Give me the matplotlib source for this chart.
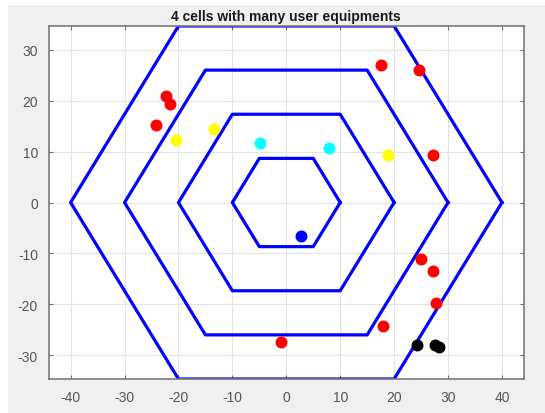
import numpy as np
from matplotlib import pyplot as plt
from matplotlib.patches import Rectangle

# cell rings (hexagon radii)
radii = [10, 20, 30, 40]

# user equipments, grouped by colour
red_x = [17.5, 24.7, -22.4, -21.6, -24.2, 27.3, 24.9, 27.2, 27.8, 17.9, -0.9]
red_y = [26.9, 26.0, 20.9, 19.3, 15.3, 9.3, -11.0, -13.5, -19.8, -24.2, -27.3]
yellow_x = [-20.5, -13.4, 18.8]
yellow_y = [12.2, 14.5, 9.3]
cyan_x = [-4.8, 7.9]
cyan_y = [11.7, 10.7]
blue_x = [2.8]
blue_y = [-6.5]
black_x = [24.3, 27.5, 28.3]
black_y = [-28.0, -28.0, -28.3]

ticks_x = [-40, -30, -20, -10, 0, 10, 20, 30, 40]
ticks_y = [-30, -20, -10, 0, 10, 20, 30]

plt.rcParams['font.family'] = ['Liberation Sans', 'DejaVu Sans']
plt.rcParams['axes.unicode_minus'] = False

fig = plt.figure(figsize=(5.45, 4.14), dpi=100)
fig.patch.set_facecolor('white')
# grey MATLAB-like figure panel
fig.patches.append(Rectangle((8 / 545, 0.0), 1.0, 408 / 414, transform=fig.transFigure,
                             facecolor='#f0f0f0', edgecolor='none', zorder=-10))

ax = fig.add_axes([0.090, 0.0821, 0.8706, 0.8527])
ax.set_facecolor('white')

ang = np.deg2rad(np.arange(0, 361, 60))
for r in radii:
    ax.plot(r * np.cos(ang), r * np.sin(ang), color='#0000ff', linewidth=2.3, zorder=2)

ms = 7.6
ax.plot(red_x, red_y, 'o', color='#ff0000', markersize=ms, zorder=3)
ax.plot(yellow_x, yellow_y, 'o', color='#ffff00', markersize=ms, zorder=3)
ax.plot(cyan_x, cyan_y, 'o', color='#00ffff', markersize=ms, zorder=3)
ax.plot(blue_x, blue_y, 'o', color='#0000ff', markersize=ms, zorder=3)
ax.plot(black_x, black_y, 'o', color='black', markersize=ms, zorder=3)

ax.set_xlim(-44, 44)
ax.set_ylim(-34.64, 34.64)
ax.set_xticks(ticks_x)
ax.set_yticks(ticks_y)
ax.grid(True, color='#e3e3e3', linewidth=0.8)
ax.set_axisbelow(True)
ax.tick_params(direction='in', length=3, width=0.8, colors='#6e6e6e',
               labelcolor='#555555', labelsize=10, top=True, right=True, pad=8)
for s in ax.spines.values():
    s.set_color('#7a7a7a')
    s.set_linewidth(1.2)

ax.set_title('4 cells with many user equipments', fontsize=10, fontweight='bold',
             color='#1a1a1a', pad=4)

fig.savefig('out.png', dpi=100, facecolor=fig.get_facecolor())
